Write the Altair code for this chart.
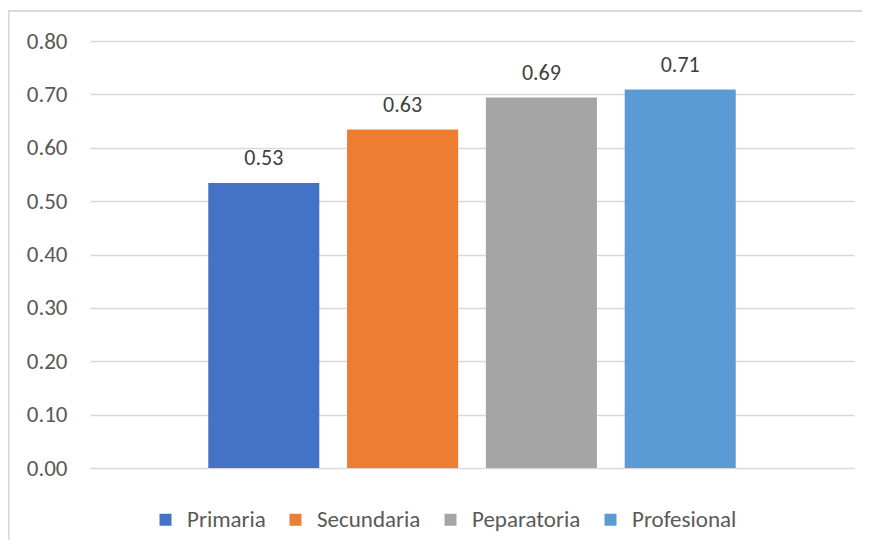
import altair as alt
import pandas as pd

categories = ["Primaria", "Secundaria", "Peparatoria", "Profesional"]
values = [0.534, 0.634, 0.694, 0.709]
labels = ["0.53", "0.63", "0.69", "0.71"]
colors = ["#4472C4", "#ED7D31", "#A5A5A5", "#5B9BD5"]

df = pd.DataFrame({"nivel": categories, "valor": values, "etiqueta": labels})

FONT = "Calibri, Carlito, Lato"

x = alt.X("nivel:N", sort=categories, axis=None,
          scale=alt.Scale(paddingInner=0.2, paddingOuter=0.852))
y = alt.Y("valor:Q", scale=alt.Scale(domain=[0, 0.8]),
          axis=alt.Axis(title=None, values=[0, 0.1, 0.2, 0.3, 0.4, 0.5, 0.6, 0.7, 0.8],
                        format=".2f", domain=False, ticks=False, labelPadding=23,
                        labelFontSize=23, labelColor="#595959", labelFont=FONT,
                        gridColor="#D9D9D9", gridWidth=1.3))

bars = alt.Chart(df).mark_bar().encode(
    x=x, y=y,
    color=alt.Color("nivel:N", sort=categories,
                    scale=alt.Scale(domain=categories, range=colors),
                    legend=alt.Legend(title=None, orient="none", direction="horizontal",
                                      legendX=64, legendY=467, padding=0,
                                      symbolType="square", symbolSize=144,
                                      symbolStrokeWidth=0, labelFontSize=23,
                                      labelColor="#595959", labelFont=FONT,
                                      columnPadding=18, labelOffset=10)),
)

text = alt.Chart(df).mark_text(baseline="alphabetic", dy=-18, fontSize=22,
                               color="#404040", font=FONT).encode(
    x=x, y=y, text="etiqueta:N")

border_top = alt.Chart(df).mark_rule(stroke="#D9D9D9", strokeWidth=1.5).encode(
    x=alt.value(-82), x2=alt.value(772), y=alt.value(-30))
border_left = alt.Chart(df).mark_rule(stroke="#D9D9D9", strokeWidth=1.5).encode(
    x=alt.value(-81.5), y=alt.value(-30), y2=alt.value(499))

chart = alt.layer(border_top, border_left, bars, text).properties(
    width=764, height=427,
    autosize=alt.AutoSizeParams(type="none"),
    padding={"left": 82, "top": 33, "right": 8, "bottom": 72},
).configure_view(stroke=None)

chart.save("out.html", embed_options={"renderer": "svg", "actions": False})
